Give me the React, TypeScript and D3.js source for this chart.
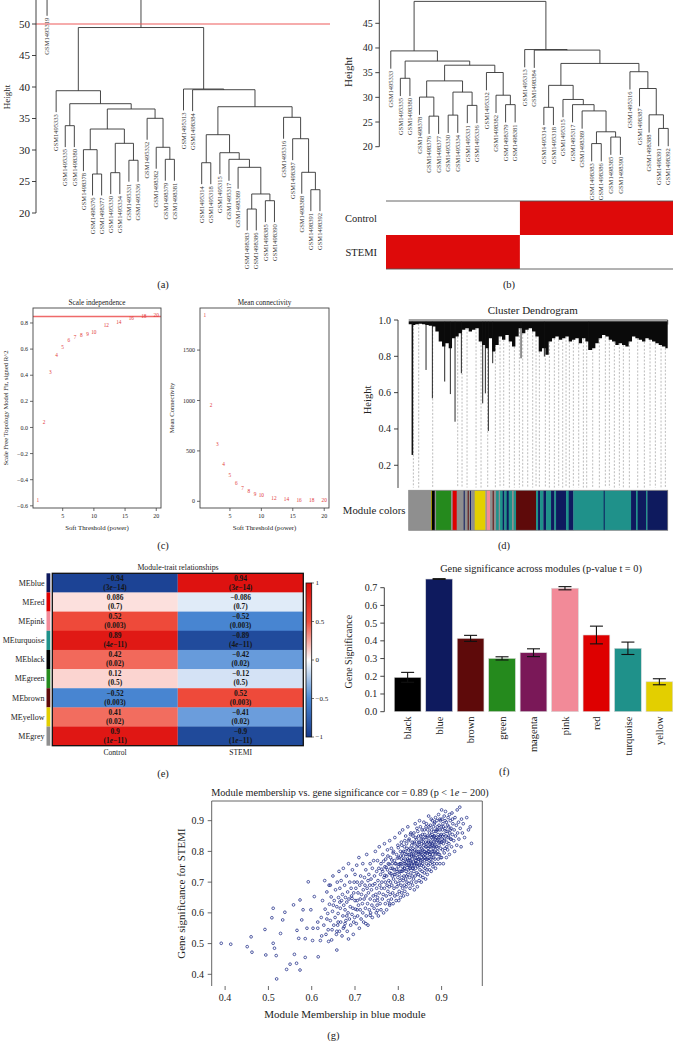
import React from "react";
import * as d3 from "d3";

type Tree = string | [number, Tree, Tree];

const SERIF = "'Liberation Serif', 'Times New Roman', Times, serif";
const INK = "#2e2e2e";

// ---------- (a)/(b) sample clustering (heights) ----------
const leftPair: Tree = [33.86, "GSM1495335", "GSM1498380"];
const leftA: Tree = [30.05, "GSM1498378", [26.19, "GSM1498376", "GSM1498377"]];
const leftB: Tree = [31.06, [26.4, "GSM1495330", "GSM1495334"], [28.37, "GSM1495331", "GSM1495336"]];
const leftC: Tree = [35.03, "GSM1495332", [30.43, "GSM1498382", [28.52, "GSM1498379", "GSM1498381"]]];
const leftBranch: Tree = [39.41, "GSM1495333", [37.35, leftPair, [36.51, [33.33, leftA, leftB], leftC]]];
const rightDeep: Tree = [23.02, [20.63, "GSM1498383", "GSM1498386"], [21.95, "GSM1498385", "GSM1498390"]];
const rightA: Tree = [32.43, [27.98, "GSM1495314", "GSM1495318"],
  [29.57, "GSM1495315", [28.52, "GSM1495317", [27.25, "GSM1498389", rightDeep]]]];
const rightB: Tree = [35.19, "GSM1495316", [31.79, "GSM1498387", [26.46, "GSM1498388", [23.7, "GSM1498391", "GSM1498392"]]]];
const rightBranch: Tree = [39.68, "GSM1495313", [39.57, "GSM1498384", [36.87, rightA, rightB]]];
const sampleTree: Tree = [49.44, leftBranch, rightBranch];
const outlierTree: Tree = [54.7, "GSM1495319", sampleTree];
const cutHeight = 50;
// 1 = STEMI, 0 = Control, in leaf order of panel (b)
const stemiFlags = [1, 1, 1, 1, 1, 1, 1, 1, 1, 1, 1, 1, 1, 1, 0, 0, 0, 0, 0, 0, 0, 0, 0, 0, 0, 0, 0, 0, 0, 0];

// ---------- (c) soft threshold ----------
const powers = [1, 2, 3, 4, 5, 6, 7, 8, 9, 10, 12, 14, 16, 18, 20];
const scaleFitR2 = [-0.56, 0.043, 0.425, 0.551, 0.615, 0.666, 0.692, 0.71, 0.712, 0.733, 0.782, 0.81, 0.838, 0.853, 0.858];
const meanConnectivity = [1844, 954, 565, 366, 256, 180, 130, 97, 74, 60, 34, 24, 16, 11, 7];
const r2Cutoff = 0.85;

// ---------- (d) gene dendrogram (position units 0..777 along the tree) ----------
const canopyFloor = [0.977, 0.973, 0.977, 0.98, 0.977, 0.973, 0.969, 0.964, 0.936, 0.881, 0.854, 0.872, 0.845,
  0.9, 0.909, 0.927, 0.946, 0.955, 0.936, 0.946, 0.955, 0.881, 0.863, 0.845, 0.9, 0.826, 0.863, 0.909, 0.891,
  0.918, 0.881, 0.854, 0.909, 0.955, 0.927, 0.946, 0.955, 0.936, 0.909, 0.826, 0.845, 0.808, 0.881, 0.9, 0.909,
  0.891, 0.9, 0.909, 0.881, 0.891, 0.9, 0.872, 0.9, 0.881, 0.835, 0.845, 0.872, 0.9, 0.918, 0.909, 0.891, 0.881,
  0.863, 0.872, 0.863, 0.854, 0.881, 0.909, 0.9, 0.891, 0.881, 0.9, 0.891, 0.881, 0.872, 0.863, 0.854, 0.845];
const geneSpikes: [number, number][] = [[11, 0.257], [52, 0.725], [71, 0.569], [108, 0.661], [125, 0.592], [139, 0.44],
  [158, 0.707], [222, 0.541], [230, 0.596], [239, 0.389], [252, 0.762], [337, 0.789], [407, 0.799], [540, 0.835]];
const geneDashes = [14, 30, 72, 147, 160, 175, 202, 217, 237, 260, 274, 285, 302, 317, 332, 342, 357, 372, 382, 392,
  410, 422, 437, 450, 462, 472, 482, 494, 510, 524, 534, 552, 572, 590, 602, 617, 632, 644, 662, 687, 707, 724, 740, 757, 770];
const moduleRuns: [string, number][] = [["grey", 67], ["yellow", 2], ["black", 9], ["grey", 4], ["green", 45], ["grey", 5],
  ["red", 12], ["grey", 21], ["blue", 3], ["grey", 9], ["brown", 3], ["grey", 4], ["blue", 3], ["grey", 11], ["yellow", 32],
  ["grey", 4], ["pink", 10], ["grey", 8], ["brown", 3], ["grey", 7], ["turquoise", 8], ["grey", 4], ["turquoise", 8],
  ["blue", 5], ["turquoise", 7], ["blue", 6], ["turquoise", 10], ["grey", 5], ["turquoise", 7], ["brown", 60],
  ["turquoise", 6], ["blue", 6], ["turquoise", 10], ["blue", 8], ["turquoise", 15], ["blue", 10], ["turquoise", 5],
  ["blue", 30], ["turquoise", 8], ["blue", 14], ["turquoise", 91], ["blue", 3], ["turquoise", 79], ["blue", 15],
  ["turquoise", 5], ["blue", 25], ["turquoise", 4], ["blue", 61]];

const moduleHex: Record<string, string> = {
  black: "#000000", blue: "#0e1a5e", brown: "#5e0a0a", green: "#258a1d", magenta: "#7a1858",
  pink: "#f28a98", red: "#de0000", turquoise: "#1f918a", yellow: "#e3cf00", grey: "#8f8f8f",
};

// ---------- (e) module-trait relationships ----------
const traitModules = ["blue", "red", "pink", "turquoise", "black", "green", "brown", "yellow", "grey"];
const corControl = [-0.94, 0.086, 0.52, 0.89, 0.42, 0.12, -0.52, 0.41, 0.9];
const corStemi = [0.94, -0.086, -0.52, -0.89, -0.42, -0.12, 0.52, -0.41, -0.9];
const pValues = ["3e-14", "0.7", "0.003", "4e-11", "0.02", "0.5", "0.003", "0.02", "1e-11"];
const traits = ["Control", "STEMI"];

// ---------- (f) gene significance ----------
const barModules = ["black", "blue", "brown", "green", "magenta", "pink", "red", "turquoise", "yellow"];
const gsMean = [0.194, 0.749, 0.414, 0.301, 0.333, 0.697, 0.433, 0.358, 0.169];
const gsErr = [0.028, 0.002, 0.017, 0.009, 0.022, 0.009, 0.05, 0.035, 0.017];

// ---------- (g) module membership vs gene significance, values in thousandths ----------
const mmGsPoints: [number, number][] = [
  [391, 501], [413, 498], [451, 490], [460, 522], [462, 472], [492, 546], [494, 463], [508, 584], [511, 615], [511, 501],
  [514, 485], [518, 461], [519, 385], [528, 533], [533, 577], [538, 602], [542, 416], [550, 433], [558, 626], [560, 465],
  [565, 436], [566, 543], [570, 517], [573, 642], [577, 577], [573, 414], [580, 610], [585, 516], [592, 701], [585, 455],
  [589, 550], [598, 610], [606, 653], [602, 510], [603, 550], [614, 570], [614, 550], [615, 457], [620, 510], [623, 525],
  [635, 580], [639, 507], [643, 690], [647, 545], [650, 625], [658, 479], [658, 540], [661, 570], [665, 635], [673, 550],
  [677, 565], [681, 590], [685, 515], [693, 647], [697, 570], [705, 610], [725, 565], [735, 592], [752, 608], [752, 640], [780, 630],
  [622, 585], [625, 640], [628, 560], [630, 705], [631, 612], [633, 530], [635, 668], [637, 598], [638, 545], [640, 690],
  [641, 628], [643, 575], [645, 652], [646, 512], [648, 605], [649, 720], [651, 560], [652, 640], [654, 585], [655, 675],
  [657, 530], [658, 620], [659, 700], [660, 560], [662, 650],
  [661, 598], [663, 735], [664, 540], [665, 680], [666, 615], [667, 570], [668, 705], [669, 640], [670, 525], [671, 660],
  [672, 590], [673, 745], [674, 625], [675, 555], [676, 690], [677, 610], [678, 650], [679, 575], [680, 720], [681, 635],
  [682, 540], [683, 668], [684, 600], [685, 760], [686, 645], [687, 580], [688, 700], [689, 620], [690, 560], [691, 680],
  [692, 655], [693, 595], [694, 740], [695, 615], [696, 530], [697, 665], [698, 700], [699, 585], [700, 640], [700, 725],
  [701, 612], [702, 680], [703, 565], [704, 755], [705, 640], [705, 700], [706, 590], [707, 665], [708, 625], [709, 780],
  [710, 550], [711, 690], [712, 645], [712, 610], [713, 720], [714, 580], [715, 660], [716, 700], [717, 630], [718, 760],
  [718, 600], [719, 675], [720, 570], [721, 645], [722, 715], [723, 690], [724, 615], [725, 740], [725, 655], [726, 590],
  [727, 790], [728, 680], [729, 630], [730, 705], [730, 560], [731, 665], [732, 725], [733, 610], [734, 690], [735, 760],
  [735, 645], [736, 600], [737, 710], [738, 675], [739, 625], [740, 745], [740, 585], [741, 690], [742, 655], [743, 770],
  [744, 615], [745, 720], [745, 640], [746, 695], [747, 800], [748, 660], [749, 600], [750, 735], [750, 680], [751, 625],
  [752, 770], [752, 650], [753, 705], [754, 590], [755, 745], [756, 665], [756, 815], [757, 690], [758, 630], [759, 725],
  [760, 760], [760, 610], [761, 680], [762, 700], [763, 645], [764, 790], [764, 735], [765, 660], [766, 600], [767, 715],
  [768, 825], [768, 680], [769, 750], [770, 630], [770, 700], [771, 775], [772, 655], [773, 720], [773, 610], [774, 690],
  [775, 805], [775, 740], [776, 670], [777, 640], [777, 760], [778, 705], [779, 685], [780, 835], [780, 625], [780, 730],
  [781, 660], [782, 780], [782, 700], [783, 745], [784, 645], [784, 810], [785, 690], [786, 720], [786, 760], [787, 665],
  [788, 630], [788, 795], [789, 710], [790, 740], [790, 680], [791, 770], [792, 655], [792, 845], [793, 725], [794, 700],
  [795, 760], [795, 640], [796, 790], [797, 685], [797, 735], [798, 660], [799, 715], [799, 820], [800, 750], [800, 695],
  [801, 640], [801, 780], [802, 725], [802, 670], [803, 860],
  [804, 705], [804, 760], [805, 800], [805, 650], [806, 735], [806, 690], [807, 775], [807, 830], [808, 715], [808, 665],
  [809, 750], [809, 795], [810, 680], [810, 870], [811, 740], [811, 705], [812, 785], [812, 655], [813, 760], [813, 720],
  [814, 815], [814, 690], [815, 745], [815, 670], [816, 800], [816, 775], [817, 710], [817, 850], [818, 735], [818, 685],
  [819, 765], [819, 825], [820, 700], [820, 755], [821, 790], [821, 660], [822, 725], [822, 880], [823, 770], [823, 740],
  [824, 805], [824, 695], [825, 755], [825, 840], [826, 715], [826, 780], [827, 680], [827, 810], [828, 745], [828, 765],
  [829, 730], [829, 860], [830, 790], [830, 700], [831, 755], [831, 820], [832, 720], [832, 775], [833, 690], [833, 800],
  [834, 745], [834, 850], [835, 765], [835, 710], [836, 785], [836, 735], [837, 830], [837, 675], [838, 760], [838, 805],
  [839, 720], [839, 890], [840, 770], [840, 745], [841, 795], [841, 700], [842, 840], [842, 760], [843, 730], [843, 815],
  [844, 780], [844, 685], [845, 750], [845, 865], [846, 800], [846, 725], [847, 775], [847, 830], [848, 705], [848, 755],
  [849, 790], [849, 900], [850, 740], [850, 815], [851, 770], [851, 720], [852, 850], [852, 795], [853, 755], [853, 700],
  [854, 825], [854, 780], [855, 735], [855, 870], [856, 805], [856, 760], [857, 715], [857, 840], [858, 785], [858, 750],
  [859, 895], [859, 820], [860, 770], [860, 730], [861, 855], [861, 800], [862, 745], [862, 790], [863, 830], [863, 710],
  [864, 775], [864, 880], [865, 815], [865, 760], [866, 740], [866, 845], [867, 795], [867, 725], [868, 870], [868, 780],
  [869, 810], [869, 755], [870, 915], [870, 835], [871, 770], [871, 800], [872, 740], [872, 860], [873, 790], [873, 825],
  [874, 760], [874, 885], [875, 815], [875, 775], [876, 845], [876, 735], [877, 800], [877, 870], [878, 765], [878, 820],
  [879, 790], [879, 900], [880, 750], [880, 840], [881, 810], [881, 780], [882, 865], [882, 830], [883, 760], [883, 890],
  [884, 800], [884, 850], [885, 775], [885, 820], [886, 745], [886, 910], [887, 845], [887, 795], [888, 870], [888, 815],
  [889, 760], [890, 835], [890, 880], [891, 800], [892, 855], [892, 775], [893, 920], [894, 820], [894, 845], [895, 790],
  [896, 870], [896, 760], [897, 900], [898, 830], [898, 810], [899, 855], [900, 780], [900, 935], [901, 840], [902, 870],
  [902, 805], [903, 890], [904, 760], [904, 825], [905, 855], [906, 915], [906, 795], [907, 840], [908, 875], [908, 810],
  [909, 930], [910, 850], [911, 780], [911, 895], [912, 830], [913, 865], [914, 805], [915, 910], [915, 845], [916, 880],
  [917, 825], [918, 790], [919, 860], [920, 900], [921, 840], [922, 875], [923, 815], [924, 925], [925, 855], [926, 890],
  [928, 835], [929, 870], [930, 800], [931, 910], [932, 850], [934, 885], [935, 820], [936, 935], [937, 860], [939, 895],
  [940, 840], [942, 944], [943, 875], [945, 815], [946, 905], [948, 860], [950, 890], [953, 845], [958, 910], [962, 870],
  [966, 880], [969, 826],
  [762, 742], [766, 768], [769, 722], [772, 748], [776, 785], [779, 758], [783, 728], [785, 772], [787, 745], [789, 800],
  [791, 725], [793, 760], [796, 742], [798, 778], [800, 812], [802, 758], [803, 735], [805, 785], [806, 760], [808, 820],
  [809, 735], [811, 770], [812, 800], [814, 745], [815, 835], [816, 760], [818, 790], [819, 720], [820, 810], [821, 775],
  [823, 755], [824, 835], [825, 790], [826, 745], [827, 770], [828, 855], [829, 800], [830, 760], [831, 785], [832, 830],
  [833, 745], [834, 810], [835, 790], [836, 860], [837, 755], [838, 825], [839, 780], [840, 845], [841, 770], [842, 800],
  [843, 875], [844, 760], [845, 820], [846, 790], [847, 850], [848, 775], [849, 830], [850, 800], [851, 880], [852, 765],
  [853, 840], [854, 810], [855, 790], [856, 855], [857, 775], [858, 830], [859, 800], [860, 870], [861, 780], [862, 845],
  [863, 815], [864, 795], [865, 890], [866, 825], [867, 775], [868, 850], [869, 800], [870, 830], [871, 880], [872, 815],
  [873, 790], [874, 850], [875, 830], [876, 905], [877, 780], [878, 855], [879, 825], [880, 800], [881, 880], [882, 850],
  [883, 815], [884, 895], [885, 840], [886, 790], [887, 865], [888, 830], [889, 900], [890, 810], [891, 870], [892, 840],
  [893, 790], [894, 885], [895, 830], [896, 905], [897, 850], [898, 780], [899, 880], [900, 830], [901, 905], [902, 850],
  [904, 880], [906, 835], [908, 900], [910, 865], [912, 815], [914, 885], [916, 850], [918, 920], [920, 870], [922, 840],
  [925, 905],
];

// ---------- helpers ----------
const padExtent = (v: number[]): [number, number] => {
  const [a, b] = d3.extent(v) as [number, number];
  const p = (b - a) * 0.04;
  return [a - p, b + p];
};

function leafOrder(t: Tree): string[] {
  return typeof t === "string" ? [t] : [...leafOrder(t[1]), ...leafOrder(t[2])];
}

function buildDendro(t: Tree, x: (s: string) => number, y: (h: number) => number, hang: number) {
  const path = d3.path();
  const leaves: { name: string; x: number; y: number }[] = [];
  const walk = (node: Tree): { x: number; h: number | null; name?: string } => {
    if (typeof node === "string") return { x: x(node), h: null, name: node };
    const [h, a, b] = node;
    const kids = [walk(a), walk(b)];
    const ends = kids.map((k) => {
      const bottom = k.h === null ? h - hang : k.h;
      if (k.name) leaves.push({ name: k.name, x: k.x, y: y(bottom) });
      return y(bottom);
    });
    path.moveTo(kids[0].x, ends[0]);
    path.lineTo(kids[0].x, y(h));
    path.lineTo(kids[1].x, y(h));
    path.lineTo(kids[1].x, ends[1]);
    return { x: (kids[0].x + kids[1].x) / 2, h };
  };
  walk(t);
  return { d: path.toString(), leaves };
}

// consecutive runs of equal flags -> [start index, end index (exclusive), flag]
function flagRuns(flags: number[]) {
  const runs: [number, number, number][] = [];
  flags.forEach((f, i) => {
    const last = runs[runs.length - 1];
    if (last && last[2] === f) last[1] = i + 1;
    else runs.push([i, i + 1, f]);
  });
  return runs;
}

function AxisLeft({ scale, ticks, x, fmt, size, tick = 4, gap = 2, from, to }: any) {
  return (
    <g>
      <line x1={x} x2={x} y1={scale(from)} y2={scale(to)} stroke={INK} strokeWidth={0.9} />
      {ticks.map((t: number) => (
        <g key={t}>
          <line x1={x - tick} x2={x} y1={scale(t)} y2={scale(t)} stroke={INK} strokeWidth={0.9} />
          <text x={x - tick - gap} y={scale(t)} dy="0.35em" textAnchor="end" fontSize={size} fill="#222">
            {fmt(t)}
          </text>
        </g>
      ))}
    </g>
  );
}

function SampleDendro({ tree, range, yScale, hang }: any) {
  const leaves = leafOrder(tree);
  const band = d3.scaleBand<string>().domain(leaves).range(range);
  const cx = (s: string) => (band(s) ?? 0) + band.bandwidth() / 2;
  const dendro = buildDendro(tree, cx, yScale, hang);
  return (
    <g>
      <path d={dendro.d} fill="none" stroke="#333" strokeWidth={0.9} />
      {dendro.leaves.map((l) => (
        <text key={l.name} transform={`translate(${l.x + 2.2},${l.y + 2}) rotate(-90)`} textAnchor="end"
          fontSize={6.5} fill="#333">
          {l.name}
        </text>
      ))}
    </g>
  );
}

function ThresholdPlot({ left, right, values, yTicks, title, ylab, ylabX, fmt, cutoff }: any) {
  const top = 308;
  const bottom = 508;
  const x = d3.scaleLinear().domain(padExtent(powers)).range([left, right]);
  const y = d3.scaleLinear().domain(padExtent(values)).range([bottom, top]);
  const cx = (left + right) / 2;
  return (
    <g>
      <text x={cx} y={304.5} textAnchor="middle" fontSize={7.2} fill="#222">{title}</text>
      {cutoff !== undefined && (
        <line x1={left} x2={right} y1={y(cutoff)} y2={y(cutoff)} stroke="#ef6a6a" strokeWidth={1.6} />
      )}
      <rect x={left} y={top} width={right - left} height={bottom - top} fill="none" stroke="#444" strokeWidth={0.9} />
      {yTicks.map((t: number) => (
        <g key={t}>
          <line x1={left - 3} x2={left} y1={y(t)} y2={y(t)} stroke="#444" strokeWidth={0.8} />
          <text x={left - 5} y={y(t)} dy="0.35em" textAnchor="end" fontSize={6} fill="#222">{fmt(t)}</text>
        </g>
      ))}
      {[5, 10, 15, 20].map((t) => (
        <g key={t}>
          <line x1={x(t)} x2={x(t)} y1={bottom} y2={bottom + 3} stroke="#444" strokeWidth={0.8} />
          <text x={x(t)} y={518} textAnchor="middle" fontSize={6} fill="#222">{t}</text>
        </g>
      ))}
      {powers.map((p, i) => (
        <text key={p} x={x(p)} y={y(values[i])} dy="0.35em" textAnchor="middle" fontSize={5.3} fill="#e23a3a">
          {p}
        </text>
      ))}
      <text x={cx} y={530} textAnchor="middle" fontSize={6.8} fill="#222">Soft Threshold (power)</text>
      <text transform={`translate(${ylabX},408) rotate(-90)`} textAnchor="middle" fontSize={6.6} fill="#222">
        {ylab}
      </text>
    </g>
  );
}

const minus = (s: string) => s.replace(/-/g, "\u2212");

function PLabel({ p, x, y }: any) {
  const parts = p.split("e");
  return (
    <text x={x} y={y} dy="0.35em" textAnchor="middle" fontSize={7.4} fontWeight="bold" fill="#151515">
      ({parts[0]}
      {parts.length > 1 && <tspan fontStyle="italic">e</tspan>}
      {parts.length > 1 && minus(parts[1])})
    </text>
  );
}

export default function App() {
  // (a)
  const yA = d3.scaleLinear().domain([20, 50]).range([213, 24]);
  // (b)
  const yB = d3.scaleLinear().domain([20, 45]).range([146.7, 23.3]);
  const leavesB = leafOrder(sampleTree);
  const bandB = d3.scaleBand<string>().domain(leavesB).range([386, 673]);
  const traitRows = d3.scaleBand<string>().domain(["Control", "STEMI"]).range([201, 269]);
  const stemiRuns = flagRuns(stemiFlags);

  // (d)
  const gx = d3.scaleLinear().domain([0, 777]).range([408.7, 667.7]);
  const gy = d3.scaleLinear().domain([0, 1]).range([501.6, 320]);
  const canopy = d3
    .area<number>()
    .x((_, i) => gx(Math.min(i * 10, 777)))
    .y0(gy(0.993))
    .y1((h) => gy(h))
    .curve(d3.curveStepAfter);
  const canopyData = [...canopyFloor, canopyFloor[canopyFloor.length - 1]];
  const runEnds = d3.cumsum(moduleRuns.map((r) => r[1]));

  // (e)
  const heatColor = d3
    .scaleLinear<string>()
    .domain([-1, -0.5, 0, 0.5, 1])
    .range(["#163a8c", "#4a88d4", "#ffffff", "#ef4d3c", "#dc0a0a"]);
  const rowY = d3.scaleBand<string>().domain(traitModules).range([573.3, 745.7]);
  const colX = d3.scaleBand<string>().domain(traits).range([52.3, 303.3]);
  const barScale = d3.scaleLinear().domain([-1, 1]).range([737, 583]);

  // (f)
  const fx = d3.scaleBand<string>().domain(barModules).range([391.9, 675.1]).paddingInner(0.15).paddingOuter(0.075);
  const fy = d3.scaleLinear().domain([0, 0.7]).range([711.7, 587.7]);

  // (g)
  const sx = d3.scaleLinear().domain([0.369, 0.994]).range([211.7, 482.3]);
  const sy = d3.scaleLinear().domain([0.362, 0.964]).range([986, 801]);

  const f1 = d3.format(".1f");

  return (
    <svg width={673} height={1041} style={{ position: "absolute", left: 0, top: 0, background: "#fff" }}
      fontFamily={SERIF}>
      <rect width={673} height={1041} fill="#fff" />

      {/* ---------------- (a) ---------------- */}
      <g>
        <SampleDendro tree={outlierTree} range={[42.5, 324.5]} yScale={yA} hang={3.4} />
        <line x1={36} x2={330} y1={yA(cutHeight)} y2={yA(cutHeight)} stroke="#ee5a5a" strokeWidth={1.2} />
        <AxisLeft scale={yA} ticks={[20, 25, 30, 35, 40, 45, 50]} x={36} fmt={(d: number) => d} size={11}
          tick={4} gap={2} from={20} to={55} />
        <text transform="translate(10,97) rotate(-90)" textAnchor="middle" fontSize={9} fill="#222">Height</text>
        <text x={163} y={287.5} textAnchor="middle" fontSize={10.5} fill="#222">(a)</text>
      </g>

      {/* ---------------- (b) ---------------- */}
      <g>
        <SampleDendro tree={sampleTree} range={[386, 673]} yScale={yB} hang={3.6} />
        <AxisLeft scale={yB} ticks={[20, 25, 30, 35, 40, 45]} x={379.3} fmt={(d: number) => d} size={10}
          tick={4} gap={2.5} from={20} to={50} />
        <text transform="translate(352,72) rotate(-90)" textAnchor="middle" fontSize={11} fill="#222">Height</text>
        {traits.map((trait) =>
          stemiRuns.map(([s, e, f]) => {
            const on = (trait === "STEMI") === (f === 1);
            const x0 = bandB(leavesB[s]) ?? 0;
            const x1 = (bandB(leavesB[e - 1]) ?? 0) + bandB.bandwidth();
            return (
              <rect key={trait + s} x={x0} y={traitRows(trait)} width={x1 - x0} height={traitRows.bandwidth()}
                fill={on ? "#de0a0a" : "#fff"} />
            );
          })
        )}
        <line x1={386} x2={673} y1={201} y2={201} stroke="#555" strokeWidth={0.9} />
        <line x1={386} x2={673} y1={269} y2={269} stroke="#555" strokeWidth={0.9} />
        {traits.map((trait) => (
          <text key={trait} x={377} y={(traitRows(trait) ?? 0) + traitRows.bandwidth() / 2} dy="0.35em"
            textAnchor="end" fontSize={10.5} fill="#222">
            {trait}
          </text>
        ))}
        <text x={509} y={288} textAnchor="middle" fontSize={10.5} fill="#222">(b)</text>
      </g>

      {/* ---------------- (c) ---------------- */}
      <ThresholdPlot left={33} right={161} values={scaleFitR2} yTicks={[-0.6, -0.4, -0.2, 0, 0.2, 0.4, 0.6, 0.8]}
        title="Scale independence" ylab="Scale Free Topology Model Fit, signed R^2" ylabX={8} fmt={f1}
        cutoff={r2Cutoff} />
      <ThresholdPlot left={200} right={329} values={meanConnectivity} yTicks={[0, 500, 1000, 1500]}
        title="Mean connectivity" ylab="Mean Connectivity" ylabX={174} fmt={(d: number) => d} />
      <text x={163} y={549} textAnchor="middle" fontSize={10.5} fill="#222">(c)</text>

      {/* ---------------- (d) ---------------- */}
      <g>
        <text x={532.7} y={313.5} textAnchor="middle" fontSize={11} fill="#222">Cluster Dendrogram</text>
        {geneDashes.map((p) => (
          <line key={p} x1={gx(p)} x2={gx(p)} y1={gy(canopyFloor[Math.floor(p / 10)])} y2={gy(0.077)}
            stroke="#a0a0a0" strokeWidth={0.7} strokeDasharray="2,1.6" />
        ))}
        <path d={canopy(canopyData) ?? ""} fill="#0a0a0a" />
        {geneSpikes.map(([p, h], i) => (
          <line key={p} x1={gx(p)} x2={gx(p)} y1={gy(0.99)} y2={gy(h)} stroke="#111" strokeWidth={i === 0 ? 1.6 : 0.9} />
        ))}
        <line x1={gx(0)} x2={gx(777)} y1={gy(1)} y2={gy(1)} stroke="#333" strokeWidth={0.9} />
        <line x1={gx(777)} x2={gx(777)} y1={gy(1)} y2={gy(0.975)} stroke="#333" strokeWidth={0.9} />
        <AxisLeft scale={gy} ticks={[0.2, 0.4, 0.6, 0.8, 1.0]} x={398} fmt={f1} size={10} tick={4} gap={3}
          from={0.075} to={1} />
        <text transform="translate(371,400) rotate(-90)" textAnchor="middle" fontSize={10.5} fill="#222">Height</text>
        {moduleRuns.map(([c, n], i) => (
          <rect key={i} x={gx(runEnds[i] - n)} y={490.3} width={gx(runEnds[i]) - gx(runEnds[i] - n) + 0.3}
            height={40} fill={moduleHex[c]} />
        ))}
        <rect x={gx(0)} y={490.3} width={gx(777) - gx(0)} height={40} fill="none" stroke="#888" strokeWidth={0.8} />
        <text x={405.5} y={510.3} dy="0.35em" textAnchor="end" fontSize={10.8} fill="#222">Module colors</text>
        <text x={504} y={549} textAnchor="middle" fontSize={10.5} fill="#222">(d)</text>
      </g>

      {/* ---------------- (e) ---------------- */}
      <g>
        <defs>
          <linearGradient id="heatBar" x1="0" y1="1" x2="0" y2="0">
            {heatColor.domain().map((v) => (
              <stop key={v} offset={`${((v + 1) / 2) * 100}%`} stopColor={heatColor(v)} />
            ))}
          </linearGradient>
        </defs>
        <text x={178} y={570.3} textAnchor="middle" fontSize={7.8} fill="#222">Module-trait relationships</text>
        {traitModules.map((m, i) => {
          const y0 = rowY(m) ?? 0;
          const cy = y0 + rowY.bandwidth() / 2;
          return (
            <g key={m}>
              <rect x={46.5} y={y0} width={3.8} height={rowY.bandwidth()} fill={moduleHex[m]} />
              <text x={44.5} y={cy} dy="0.35em" textAnchor="end" fontSize={8} fill="#222">{"ME" + m}</text>
              {[corControl[i], corStemi[i]].map((v, j) => {
                const x0 = colX(traits[j]) ?? 0;
                const cx = x0 + colX.bandwidth() / 2;
                return (
                  <g key={j}>
                    <rect x={x0} y={y0} width={colX.bandwidth()} height={rowY.bandwidth() + 0.3} fill={heatColor(v)} />
                    <text x={cx} y={cy - 4.8} dy="0.35em" textAnchor="middle" fontSize={7.4} fontWeight="bold"
                      fill="#151515">
                      {minus(String(v))}
                    </text>
                    <PLabel p={pValues[i]} x={cx} y={cy + 4.2} />
                  </g>
                );
              })}
            </g>
          );
        })}
        <rect x={52.3} y={573.3} width={251} height={172.4} fill="none" stroke="#111" strokeWidth={1.3} />
        <rect x={306} y={583} width={5.7} height={154} fill="url(#heatBar)" stroke="#111" strokeWidth={0.8} />
        {[-1, -0.5, 0, 0.5, 1].map((t) => (
          <g key={t}>
            <line x1={311.7} x2={314} y1={barScale(t)} y2={barScale(t)} stroke="#333" strokeWidth={0.7} />
            <text x={315.5} y={barScale(t)} dy="0.35em" fontSize={7} fill="#222">{minus(String(t))}</text>
          </g>
        ))}
        {traits.map((t) => (
          <text key={t} x={(colX(t) ?? 0) + colX.bandwidth() / 2} y={754.5} textAnchor="middle" fontSize={7.6}
            fill="#222">
            {t}
          </text>
        ))}
        <text x={163} y={776.5} textAnchor="middle" fontSize={10.5} fill="#222">(e)</text>
      </g>

      {/* ---------------- (f) ---------------- */}
      <g>
        <text x={541} y={571.5} textAnchor="middle" fontSize={10.3} fill="#222">
          Gene significance across modules (p-value t = 0)
        </text>
        {barModules.map((m, i) => {
          const x0 = fx(m) ?? 0;
          const cx = x0 + fx.bandwidth() / 2;
          return (
            <g key={m}>
              <rect x={x0} y={fy(gsMean[i])} width={fx.bandwidth()} height={fy(0) - fy(gsMean[i])}
                fill={moduleHex[m]} stroke="#d8d8d8" strokeWidth={0.6} />
              <line x1={cx} x2={cx} y1={fy(gsMean[i] - gsErr[i])} y2={fy(gsMean[i] + gsErr[i])} stroke="#111"
                strokeWidth={1.1} />
              {[-1, 1].map((s) => (
                <line key={s} x1={cx - 6.5} x2={cx + 6.5} y1={fy(gsMean[i] + s * gsErr[i])}
                  y2={fy(gsMean[i] + s * gsErr[i])} stroke="#111" strokeWidth={1.1} />
              ))}
              <text transform={`translate(${cx + 3.6},716.5) rotate(-90)`} textAnchor="end" fontSize={10.5}
                fill="#222">
                {m}
              </text>
            </g>
          );
        })}
        <AxisLeft scale={fy} ticks={d3.range(0, 0.71, 0.1)} x={384.3} fmt={f1} size={10} tick={4} gap={3}
          from={0} to={0.7} />
        <text transform="translate(352,651.7) rotate(-90)" textAnchor="middle" fontSize={10} fill="#222">
          Gene Significance
        </text>
        <text x={504.3} y={774.5} textAnchor="middle" fontSize={10.5} fill="#222">(f)</text>
      </g>

      {/* ---------------- (g) ---------------- */}
      <g>
        <text x={350} y={796} textAnchor="middle" fontSize={10.2} fill="#222">
          Module membership vs. gene significance cor = 0.89 (p &lt; 1<tspan fontStyle="italic">e</tspan> {"\u2212"} 200)
        </text>
        {mmGsPoints.map(([mm, gs], i) => (
          <circle key={i} cx={sx(mm / 1000)} cy={sy(gs / 1000)} r={1.35} fill="none" stroke="#1c2a86"
            strokeWidth={0.75} />
        ))}
        <path d={`M${sx.range()[0]},${sy.range()[0]}V${sy.range()[1]}H${sx.range()[1]}V${sy.range()[0]}`}
          fill="none" stroke="#555" strokeWidth={0.9} />
        {[0.4, 0.5, 0.6, 0.7, 0.8, 0.9].map((t) => (
          <g key={t}>
            <line x1={207.7} x2={211.7} y1={sy(t)} y2={sy(t)} stroke="#444" strokeWidth={0.8} />
            <text x={204} y={sy(t)} dy="0.35em" textAnchor="end" fontSize={10} fill="#222">{f1(t)}</text>
            <line x1={sx(t)} x2={sx(t)} y1={986} y2={990} stroke="#444" strokeWidth={0.8} />
            <text x={sx(t)} y={1000.5} textAnchor="middle" fontSize={10} fill="#222">{f1(t)}</text>
          </g>
        ))}
        <text x={345} y={1018} textAnchor="middle" fontSize={11} fill="#222">Module Membership in blue module</text>
        <text transform="translate(185,893.5) rotate(-90)" textAnchor="middle" fontSize={11} fill="#222">
          Gene significance for STEMI
        </text>
        <text x={333.3} y={1039} textAnchor="middle" fontSize={10.5} fill="#222">(g)</text>
      </g>
    </svg>
  );
}
